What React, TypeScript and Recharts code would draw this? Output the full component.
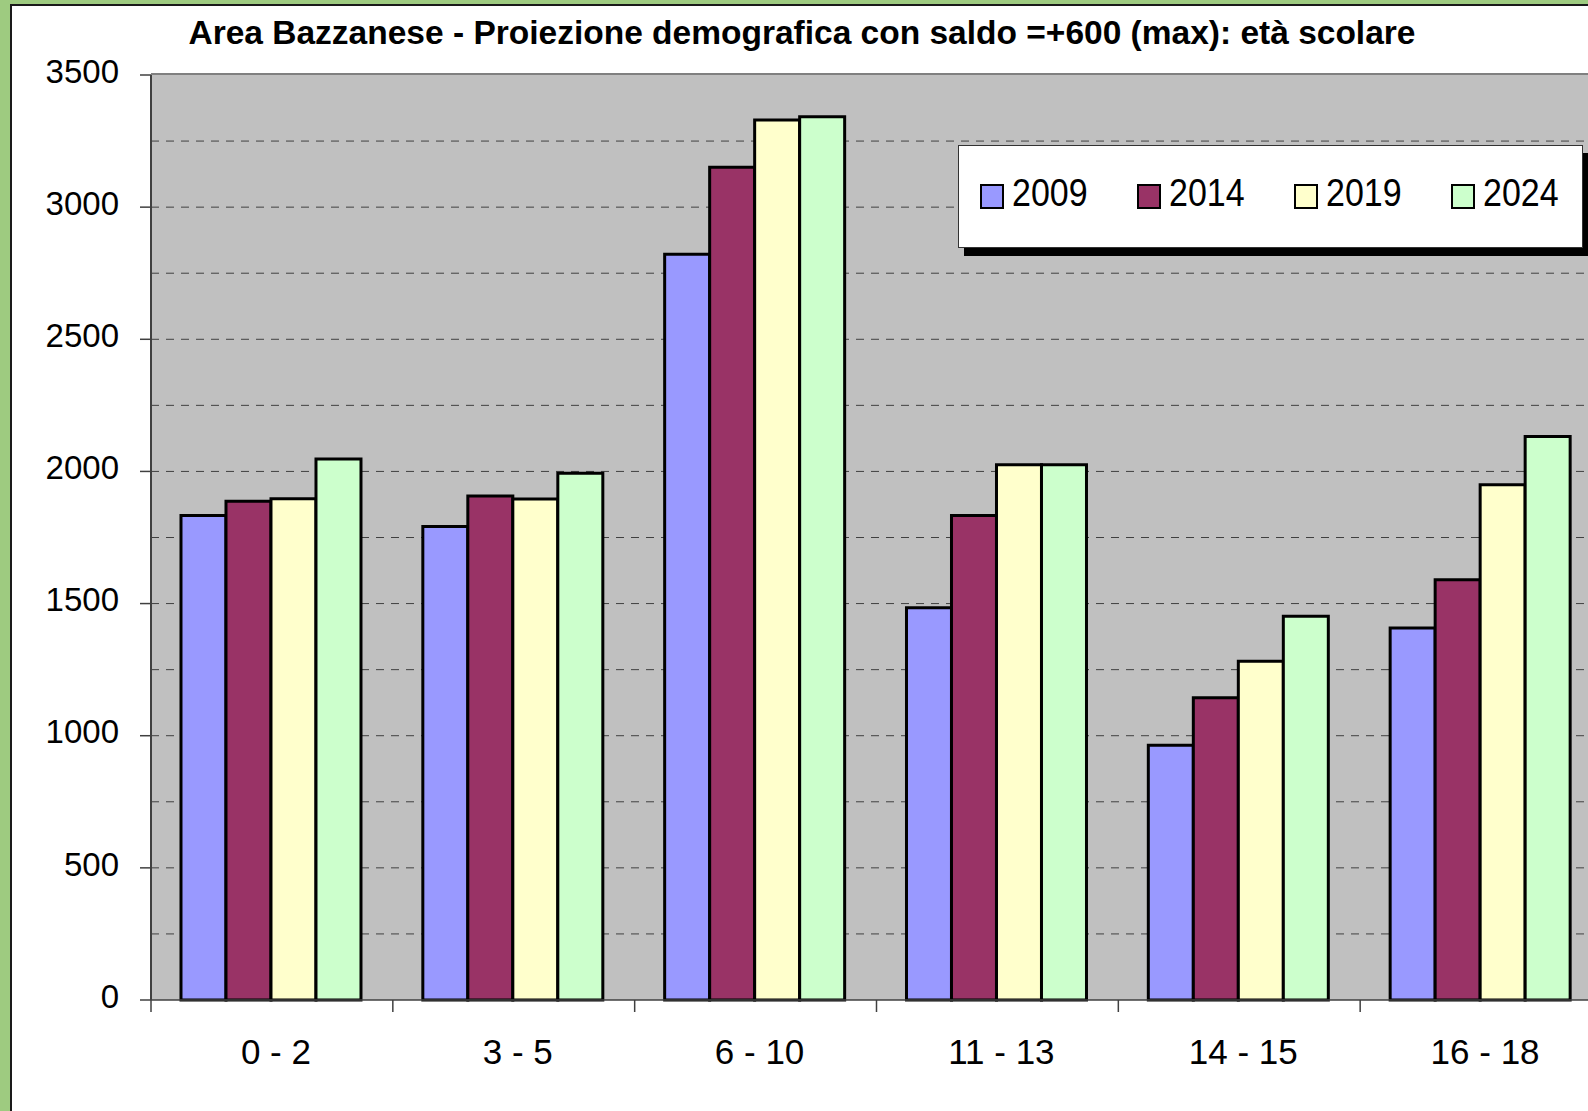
import { Bar, BarChart, CartesianGrid, XAxis, YAxis } from "recharts"

// age groups
const ageGroups = ["0 - 2", "3 - 5", "6 - 10", "11 - 13", "14 - 15", "16 - 18"]

// population per year
const pop2009 = [1833, 1792, 2822, 1484, 964, 1408]
const pop2014 = [1887, 1907, 3151, 1833, 1144, 1590]
const pop2019 = [1897, 1896, 3330, 2025, 1282, 1950]
const pop2024 = [2047, 1993, 3342, 2025, 1452, 2132]

const yTicks = [0, 500, 1000, 1500, 2000, 2500, 3000, 3500]
const gridValues = [250, 500, 750, 1000, 1250, 1500, 1750, 2000, 2250, 2500, 2750, 3000, 3250]

const series = [
  { key: "2009", values: pop2009, color: "#9999FF" },
  { key: "2014", values: pop2014, color: "#993366" },
  { key: "2019", values: pop2019, color: "#FFFFCC" },
  { key: "2024", values: pop2024, color: "#CCFFCC" },
]

const chartData = ageGroups.map((name, i) => {
  const row: Record<string, string | number> = { name }
  series.forEach((s) => {
    row[s.key] = s.values[i]
  })
  return row
})

const FONT = "'Liberation Sans', Arial, sans-serif"

function CategoryTick(props: any) {
  const { x, y, payload, width, visibleTicksCount } = props
  const band = width / visibleTicksCount
  return (
    <g>
      <line x1={x - band / 2} x2={x - band / 2} y1={y} y2={y + 12} stroke="#404040" strokeWidth={1.5} />
      <text x={x + 4} y={y + 64} textAnchor="middle" fontSize={35} fontFamily={FONT} fill="#000">
        {payload.value}
      </text>
    </g>
  )
}

function LegendBox() {
  return (
    <div
      style={{
        position: "absolute",
        left: 958,
        top: 145,
        width: 625,
        height: 103,
        boxSizing: "border-box",
        background: "#fff",
        border: "1px solid #333",
        boxShadow: "6px 8px 0 #000",
        display: "flex",
        alignItems: "center",
        paddingLeft: 21,
        fontFamily: FONT,
      }}
    >
      {series.map((s) => (
        <div key={s.key} style={{ display: "flex", alignItems: "center", width: 157, flexShrink: 0 }}>
          <span
            style={{
              display: "inline-block",
              width: 24,
              height: 25,
              boxSizing: "border-box",
              background: s.color,
              border: "2.5px solid #000",
              marginRight: 8,
            }}
          />
          <span
            style={{
              display: "inline-block",
              fontSize: 34,
              lineHeight: "34px",
              color: "#000",
              transform: "translateY(-4px) scaleY(1.12)",
            }}
          >
            {s.key}
          </span>
        </div>
      ))}
    </div>
  )
}

export default function App() {
  return (
    <div
      style={{
        position: "fixed",
        left: 0,
        top: 0,
        width: 1588,
        height: 1111,
        overflow: "hidden",
        background: "#9ECB80",
      }}
    >
      <div
        style={{
          position: "absolute",
          left: 10,
          top: 4,
          width: 1640,
          height: 1200,
          background: "#fff",
          border: "2px solid #1a1a1a",
        }}
      />
      <div
        style={{
          position: "absolute",
          left: 0,
          top: 0,
          width: 1620,
          height: 1111,
        }}
      >
        <BarChart
          width={1620}
          height={1111}
          data={chartData}
          margin={{ top: 75, right: 18, bottom: 0, left: 0 }}
          barCategoryGap="12.4%"
          barGap={0}
        >
          <CartesianGrid
            vertical={false}
            horizontalValues={gridValues}
            stroke="#404040"
            strokeDasharray="8 7"
            fill="#C0C0C0"
            fillOpacity={1}
          />
          <XAxis
            dataKey="name"
            height={111}
            axisLine={{ stroke: "#404040", strokeWidth: 1.5 }}
            tickLine={false}
            tickSize={0}
            tickMargin={0}
            interval={0}
            tick={<CategoryTick />}
          />
          <YAxis
            width={151}
            domain={[0, 3500]}
            ticks={yTicks}
            interval={0}
            axisLine={{ stroke: "#404040", strokeWidth: 2 }}
            tickLine={{ stroke: "#404040", strokeWidth: 1.5 }}
            tickSize={11}
            tickMargin={21}
            tick={{ fontSize: 33, fill: "#000", fontFamily: FONT, dy: -4 }}
          />
          {series.map((s) => (
            <Bar key={s.key} dataKey={s.key} name={s.key} fill={s.color} stroke="#000" strokeWidth={3} isAnimationActive={false} />
          ))}
        </BarChart>
      </div>
      <div style={{ position: "absolute", left: 151, top: 73, width: 1460, height: 2, background: "#808080" }} />
      <LegendBox />
      <div
        style={{
          position: "absolute",
          left: 0,
          top: 13,
          width: 1604,
          textAlign: "center",
          fontFamily: FONT,
          fontWeight: "bold",
          fontSize: 33.5,
          lineHeight: "40px",
          color: "#000",
        }}
      >
        Area Bazzanese - Proiezione demografica con saldo =+600 (max): età scolare
      </div>
    </div>
  )
}
